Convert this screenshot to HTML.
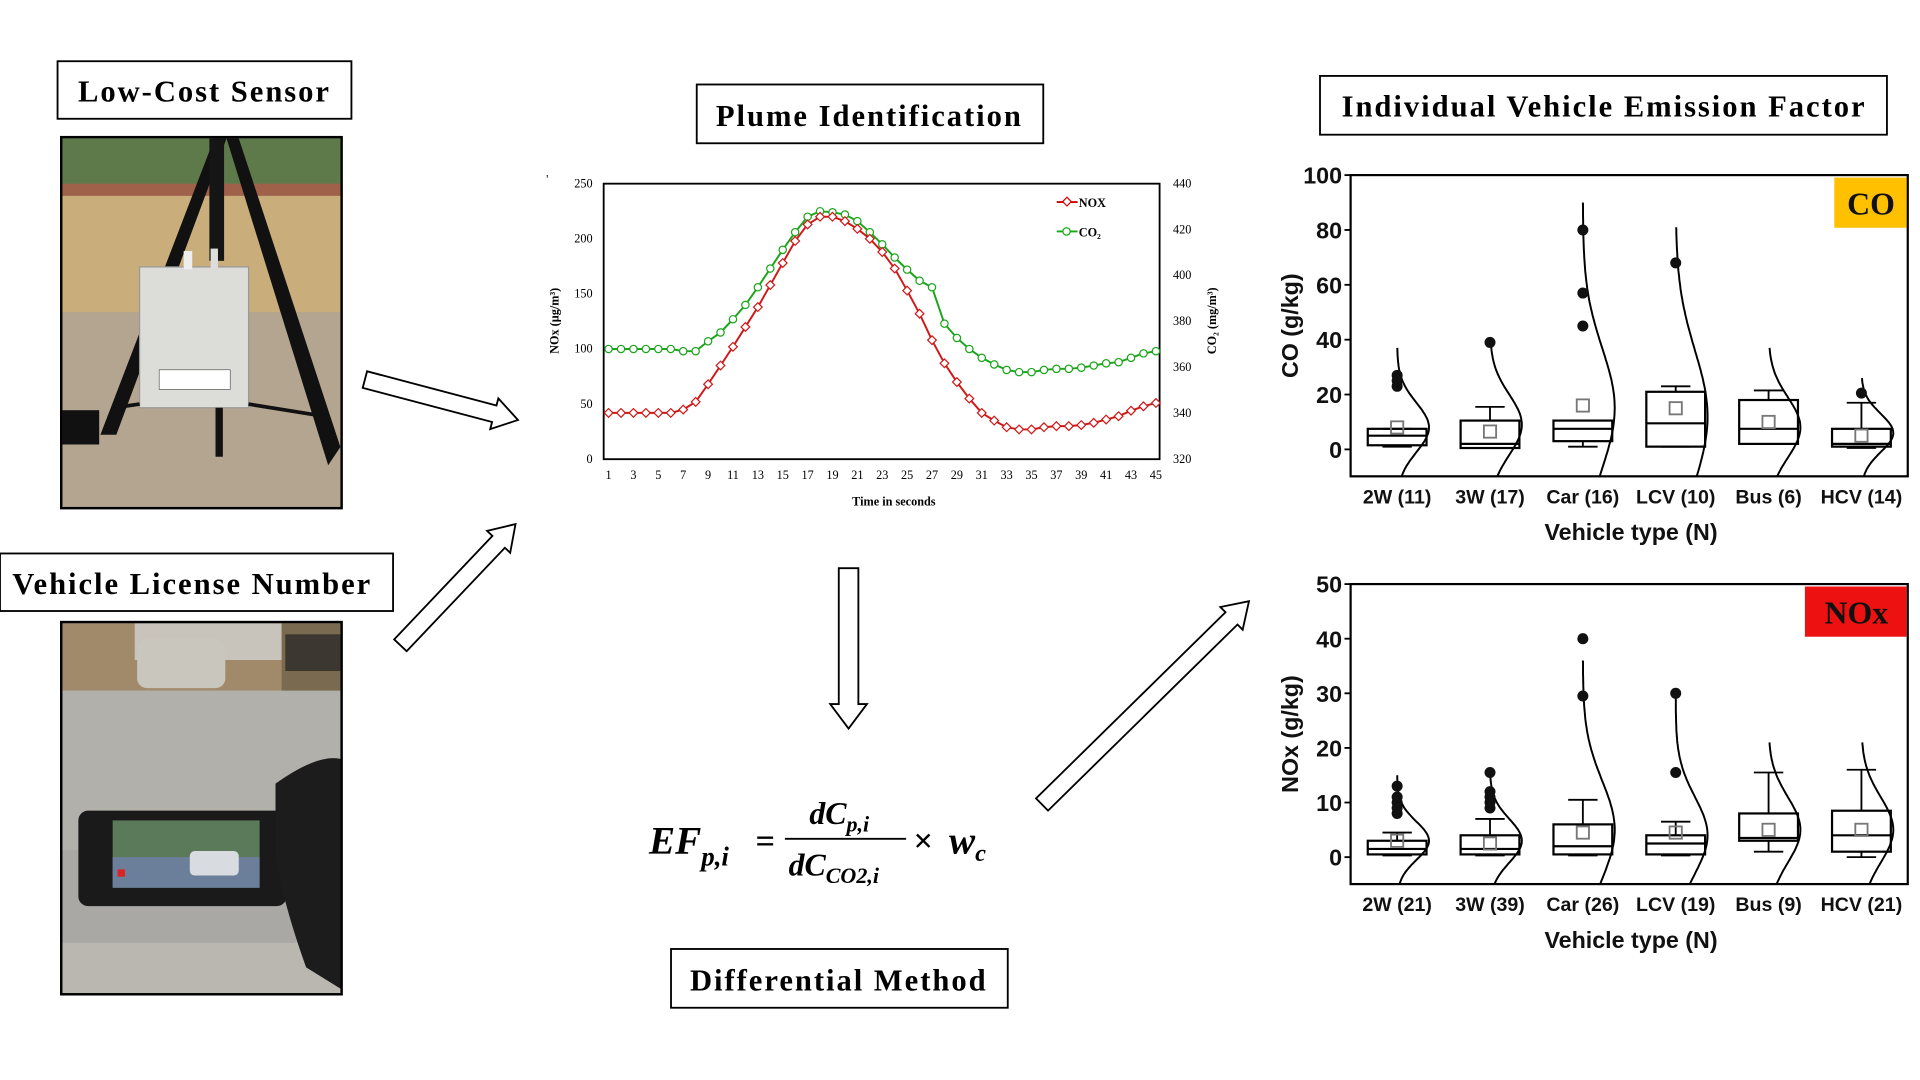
<!DOCTYPE html>
<html><head><meta charset="utf-8"><style>
html,body{margin:0;padding:0;background:#fff;width:1920px;height:1080px;overflow:hidden}
svg{display:block}
.t{font-family:"Liberation Serif",serif;font-weight:bold;font-size:25px;letter-spacing:1.6px;fill:#000}
.s{font-family:"Liberation Serif",serif;font-size:10px;fill:#000}
.b{font-family:"Liberation Sans",sans-serif;font-weight:bold;fill:#111}
</style></head><body>
<svg id="m" width="1920" height="1080" viewBox="0 0 1568 882" preserveAspectRatio="none" xmlns="http://www.w3.org/2000/svg">
<rect width="1568" height="882" fill="#fff"/>
<rect x="47" y="50" width="240" height="47" fill="#fff" stroke="#000" stroke-width="1.5"/>
<text class="t" x="167" y="83" text-anchor="middle">Low-Cost Sensor</text>
<rect x="0" y="452" width="321" height="47" fill="#fff" stroke="#000" stroke-width="1.5"/>
<text class="t" x="157" y="485" text-anchor="middle">Vehicle License Number</text>
<rect x="569" y="69" width="283" height="48" fill="#fff" stroke="#000" stroke-width="1.5"/>
<text class="t" x="710" y="103" text-anchor="middle">Plume Identification</text>
<rect x="548" y="775" width="275" height="48" fill="#fff" stroke="#000" stroke-width="1.5"/>
<text class="t" x="685" y="809" text-anchor="middle">Differential Method</text>
<rect x="1078" y="62" width="463" height="48" fill="#fff" stroke="#000" stroke-width="1.5"/>
<text class="t" x="1310" y="95" text-anchor="middle">Individual Vehicle Emission Factor</text>

<g>
<rect x="50" y="112" width="229" height="303" fill="#b5a68c"/>
<rect x="51" y="113" width="227" height="45" fill="#5f7a4a"/>
<rect x="51" y="150" width="227" height="10" fill="#a0614a"/>
<rect x="51" y="160" width="227" height="95" fill="#c9ad7a"/>
<rect x="51" y="255" width="227" height="160" fill="#b3a58f"/>
<polygon points="175,113 185,113 95,355 82,355" fill="#111"/>
<polygon points="185,113 195,113 278,365 268,380" fill="#111"/>
<rect x="171" y="113" width="12" height="100" fill="#151515"/>
<rect x="114" y="218" width="89" height="115" fill="#dcdcd8" stroke="#999" stroke-width="1"/>
<rect x="150" y="205" width="7" height="15" fill="#eee"/>
<rect x="172" y="203" width="6" height="16" fill="#ddd"/>
<rect x="130" y="302" width="58" height="16" fill="#fff" stroke="#444" stroke-width=".5"/>
<line x1="93" y1="333" x2="114" y2="330" stroke="#111" stroke-width="3"/>
<line x1="203" y1="330" x2="265" y2="340" stroke="#111" stroke-width="3"/>
<rect x="176" y="333" width="6" height="40" fill="#111"/>
<rect x="51" y="335" width="30" height="28" fill="#111"/>
<rect x="50" y="112" width="229" height="303" fill="none" stroke="#000" stroke-width="2"/>
</g>
<g>
<rect x="50" y="508" width="229" height="304" fill="#a9a8a4"/>
<rect x="51" y="509" width="227" height="55" fill="#a08a6a"/>
<rect x="110" y="509" width="120" height="30" fill="#c8c4bc"/>
<rect x="230" y="509" width="48" height="60" fill="#7a6a50"/>
<rect x="233" y="518" width="45" height="30" fill="#222" opacity=".7"/>
<rect x="112" y="522" width="72" height="40" rx="8" fill="#c9c6be"/>
<rect x="51" y="564" width="227" height="130" fill="#b2b0ab"/>
<rect x="51" y="770" width="227" height="41" fill="#bab7b0"/>
<rect x="64" y="662" width="170" height="78" rx="8" fill="#1a1a1a"/>
<rect x="92" y="670" width="120" height="55" fill="#5a7a5a"/>
<rect x="92" y="700" width="120" height="25" fill="#6c7f9a"/>
<rect x="155" y="695" width="40" height="20" rx="4" fill="#d8dbe0"/>
<rect x="96" y="710" width="6" height="6" fill="#d22"/>
<path d="M225,640 Q260,615 279,620 L279,808 L250,790 Q232,740 225,700 Z" fill="#1c1c1c"/>
<rect x="50" y="508" width="229" height="304" fill="none" stroke="#000" stroke-width="2"/>
</g>

<g id="lc">
<rect x="493" y="150" width="454" height="225" fill="#fff" stroke="#000" stroke-width="1.5"/>
<text class="s" x="446" y="150" font-size="11">'</text>
<text class="s" x="730" y="413" text-anchor="middle" font-weight="bold">Time in seconds</text>
<text class="s" transform="translate(456,262) rotate(-90)" text-anchor="middle" font-weight="bold">NOx (µg/m³)</text>
<text class="s" transform="translate(993,262) rotate(-90)" text-anchor="middle" font-weight="bold">CO₂ (mg/m³)</text>
<line x1="863" y1="165" x2="880" y2="165" stroke="#c00" stroke-width="1.5"/>
<rect x="868.5" y="162" width="5" height="5" transform="rotate(45 871 165)" fill="#fff" stroke="#c00"/>
<text class="s" x="881" y="169" font-weight="bold">NOX</text>
<line x1="863" y1="189" x2="880" y2="189" stroke="#1a1" stroke-width="1.5"/>
<circle cx="871" cy="189" r="3" fill="#fff" stroke="#1a1"/>
<text class="s" x="881" y="193" font-weight="bold">CO₂</text>
</g>

<g font-family="Liberation Serif,serif" font-weight="bold" font-style="italic" fill="#000">
<text x="530" y="697" font-size="32">EF<tspan font-size="22" dy="10">p,i</tspan></text>
<text x="617" y="696" font-size="28" font-style="normal">=</text>
<text x="661" y="673" font-size="26">dC<tspan font-size="18" dy="6">p,i</tspan></text>
<line x1="641" y1="685" x2="740" y2="685" stroke="#000" stroke-width="1.5"/>
<text x="644" y="715" font-size="26">dC<tspan font-size="18" dy="6">CO2,i</tspan></text>
<text x="746" y="696" font-size="28" font-style="normal">×</text>
<text x="775" y="697" font-size="32">w<tspan font-size="20" dy="6">c</tspan></text>
</g>

<g id="arrows"></g>
<g id="co"></g>
<g id="nox"></g>
</svg>
<script>
var NS="http://www.w3.org/2000/svg";
function el(p,t,a,txt){var e=document.createElementNS(NS,t);for(var k in a)e.setAttribute(k,a[k]);if(txt!==undefined)e.textContent=txt;p.appendChild(e);return e;}
var lc=document.getElementById('lc');
for(var v=0;v<=250;v+=50){var y=375-v*225/250;el(lc,'text',{class:'s',x:484,y:y+3,'text-anchor':'end'},v);}
for(var v=320;v<=440;v+=20){var y=375-(v-320)*225/120;el(lc,'text',{class:'s',x:958,y:y+3},v);}
function X(i){return 497+(i-1)*(944-497)/44;}
for(var i=1;i<=45;i+=2)el(lc,'text',{class:'s',x:X(i),y:391,'text-anchor':'middle'},i);
var nox=[42,42,42,42,42,42,45,52,68,85,102,120,138,158,178,198,213,220,220,216,209,200,188,173,153,132,108,87,70,55,42,35,29,27,27,29,30,30,31,33,36,39,44,48,51];
var co2=[100,100,100,100,100,100,98,98,107,115,127,140,156,173,190,206,220,225,224,222,216,206,195,183,172,162,156,123,110,100,92,86,81,79,79,81,82,82,83,85,87,88,92,96,98];
function Y(v){return 375-v*225/250;}
function series(d,c,m){var p='';d.forEach(function(v,i){p+=(i?'L':'M')+X(i+1)+','+Y(v);});el(lc,'path',{d:p,fill:'none',stroke:c,'stroke-width':1.6});
d.forEach(function(v,i){if(m)el(lc,'circle',{cx:X(i+1),cy:Y(v),r:3,fill:'#fff',stroke:c,'stroke-width':1});else el(lc,'rect',{x:X(i+1)-2.5,y:Y(v)-2.5,width:5,height:5,fill:'#fff',stroke:c,'stroke-width':1,transform:'rotate(45 '+X(i+1)+' '+Y(v)+')'});});}
series(co2,'#1aa51a',1);series(nox,'#d01818',0);
var ag=document.getElementById('arrows');
function arrow(x1,y1,x2,y2,sw,hw,hl){var dx=x2-x1,dy=y2-y1,L=Math.hypot(dx,dy),ux=dx/L,uy=dy/L,nx=-uy,ny=ux;
var bx=x2-ux*hl,by=y2-uy*hl;var pts=[[x1+nx*sw,y1+ny*sw],[bx+nx*sw,by+ny*sw],[bx+nx*hw,by+ny*hw],[x2,y2],[bx-nx*hw,by-ny*hw],[bx-nx*sw,by-ny*sw],[x1-nx*sw,y1-ny*sw]];
el(ag,'polygon',{points:pts.map(function(p){return p.join(',')}).join(' '),fill:'#fff',stroke:'#000','stroke-width':1.5});}
arrow(298,310,423,343,7,13,20);
arrow(327,527,421,428,7,13,20);
arrow(851,657,1020,491,7,13,20);
arrow(693,464,693,595,8,15,20);
function bp(gid,top,zeroY,bot,maxV,step,unitPx,label,badge,bc,cats,data){
var g=document.getElementById(gid);var L=1103,R=1558;
el(g,'rect',{x:L,y:top,width:R-L,height:bot-top,fill:'#fff',stroke:'#000','stroke-width':1.8});
function Yv(v){return zeroY-v*unitPx;}
for(var v=0;v<=maxV;v+=step){el(g,'line',{x1:L-5,y1:Yv(v),x2:L,y2:Yv(v),stroke:'#000','stroke-width':1.5});el(g,'text',{class:'b',x:L-7,y:Yv(v)+7,'text-anchor':'end','font-size':19,'font-weight':'normal',fill:'#222'},v);}
el(g,'text',{class:'b','font-size':19,transform:'translate(1060,'+((top+bot)/2)+') rotate(-90)','text-anchor':'middle'},label);
el(g,'text',{class:'b','font-size':19,x:1332,y:bot+52,'text-anchor':'middle'},'Vehicle type (N)');
var bw=badge.length*24+12;el(g,'rect',{x:R-bw,y:top+2,width:bw-1,height:41,fill:bc});
el(g,'text',{x:R-bw/2,y:top+32,'text-anchor':'middle','font-family':'Liberation Serif,serif','font-weight':'bold','font-size':26,fill:'#111'},badge);
data.forEach(function(d,i){var cx=L+38+i*(R-L)/6,hw=24;
el(g,'text',{class:'b',x:cx,y:bot+22,'text-anchor':'middle','font-size':16},cats[i]);
el(g,'line',{x1:cx,y1:Yv(d[2]),x2:cx,y2:Yv(d.wh),stroke:'#000','stroke-width':1.5});
el(g,'line',{x1:cx-12,y1:Yv(d.wh),x2:cx+12,y2:Yv(d.wh),stroke:'#000','stroke-width':1.5});
el(g,'line',{x1:cx,y1:Yv(d[0]),x2:cx,y2:Yv(d.wl),stroke:'#000','stroke-width':1.5});
el(g,'line',{x1:cx-12,y1:Yv(d.wl),x2:cx+12,y2:Yv(d.wl),stroke:'#000','stroke-width':1.5});
el(g,'rect',{x:cx-hw,y:Yv(d[2]),width:2*hw,height:Yv(d[0])-Yv(d[2]),fill:'none',stroke:'#000','stroke-width':1.8});
el(g,'line',{x1:cx-hw,y1:Yv(d[1]),x2:cx+hw,y2:Yv(d[1]),stroke:'#000','stroke-width':1.8});
el(g,'rect',{x:cx-5,y:Yv(d.mean)-5,width:10,height:10,fill:'none',stroke:'#777','stroke-width':1.5});
var p='';var lo=(zeroY-bot)/unitPx;
for(var k=0;k<=80;k++){var v=d.top+(lo-d.top)*k/80;var xx=cx+(hw+2)*Math.exp(-Math.pow(v-d.mu,2)/(2*d.s*d.s));p+=(k?'L':'M')+xx.toFixed(1)+','+Yv(v).toFixed(1);}
el(g,'path',{d:p,fill:'none',stroke:'#000','stroke-width':1.6});
(d.out||[]).forEach(function(o){el(g,'circle',{cx:cx,cy:Yv(o),r:4.5,fill:'#111'});});
});}
bp('co',143,367,389,100,20,2.24,'CO (g/kg)','CO','#ffc000',['2W (11)','3W (17)','Car (16)','LCV (10)','Bus (6)','HCV (14)'],[
{0:1.5,1:5,2:7.5,wl:1,wh:7.5,mean:8,out:[23,25,27],top:37,mu:8,s:9},
{0:0.5,1:2,2:10.5,wl:0.5,wh:15.5,mean:6.5,out:[39],top:39,mu:9,s:11},
{0:3,1:7.5,2:10.5,wl:1,wh:10.5,mean:16,out:[45,57,80],top:90,mu:15,s:22},
{0:1,1:9.5,2:21,wl:1,wh:23,mean:15,out:[68],top:81,mu:12,s:24},
{0:2,1:7.5,2:18,wl:2,wh:21.5,mean:10,out:[],top:37,mu:8,s:11},
{0:1,1:2,2:7.5,wl:0.5,wh:17,mean:5,out:[20.5],top:26,mu:6,s:7}]);
bp('nox',477,700,722,50,10,4.46,'NOx (g/kg)','NOx','#ee1111',['2W (21)','3W (39)','Car (26)','LCV (19)','Bus (9)','HCV (21)'],[
{0:0.5,1:1.5,2:3,wl:0.3,wh:4.5,mean:3,out:[8,9,10,11,13],top:15,mu:3,s:3.5},
{0:0.5,1:1.5,2:4,wl:0.3,wh:7,mean:2.5,out:[9,10,11,12,15.5],top:15,mu:3,s:4},
{0:0.5,1:2,2:6,wl:0.3,wh:10.5,mean:4.5,out:[29.5,40],top:36,mu:5,s:9},
{0:0.5,1:2.5,2:4,wl:0.3,wh:6.5,mean:4.5,out:[15.5,30],top:30,mu:4,s:7},
{0:3,1:3.5,2:8,wl:1,wh:15.5,mean:5,out:[],top:21,mu:5,s:6},
{0:1,1:4,2:8.5,wl:0,wh:16,mean:5,out:[],top:21,mu:5,s:6}]);
</script>
</body></html>
